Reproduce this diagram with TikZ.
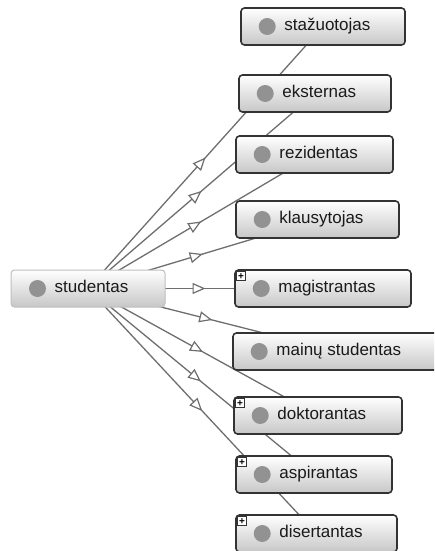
\documentclass[tikz,border=0pt]{standalone}
\usepackage{fontspec}
\setmainfont{Liberation Sans}
\usetikzlibrary{arrows.meta,decorations.markings,backgrounds}
\definecolor{edgegray}{HTML}{6E6E6E}
\definecolor{boxline}{HTML}{333333}
\definecolor{dotgray}{HTML}{929292}
\definecolor{txt}{HTML}{1A1A1A}
\tikzset{
  clsbox/.style={draw=boxline, line width=1.6pt, rounded corners=3.5pt,
    top color=white, bottom color=black!22, minimum height=37pt,
    inner sep=0pt, anchor=center},
  rootbox/.style={clsbox, draw=black!25, line width=1pt},
  dot/.style={circle, fill=dotgray, minimum size=17pt, inner sep=0pt},
  lbl/.style={anchor=mid west, inner sep=0pt,
    font=\fontsize{17}{20}\selectfont, text=txt},
  plusbox/.style={draw=boxline, fill=white, line width=0.9pt,
    minimum size=9pt, inner sep=0pt, anchor=north west,
    font=\fontsize{10}{10}\selectfont\bfseries},
  edge/.style={draw=edgegray, line width=1.3pt, postaction={decorate},
    decoration={markings, mark=at position 0.5 with
      {\arrow{Triangle[length=13pt,width=11pt,fill=white,line width=1.2pt]}}}}
}
\newcommand\mkcls[6][clsbox]{%
  \node[#1, minimum width=#5pt] (#2) at (#3,#4) {};
  \node[dot] (#2-dot) at ([xshift=27pt]#2.west) {};
  \node[lbl] (#2-lbl) at ([xshift=44pt,yshift=-1.5pt]#2.west) {#6};
}
\newcommand\mkplus[1]{%
  \node[plusbox] (#1-plus) at ([xshift=2pt,yshift=-2pt]#1.north west) {+};
}
\begin{document}
\begin{tikzpicture}[x=1pt,y=-1pt]
  \useasboundingbox (0,0) rectangle (434,551);
  \clip (0,0) rectangle (434,551);
  \mkcls[rootbox]{studentas}{88}{288.5}{154}{studentas}
  \mkcls{stazuotojas}{323}{26.5}{164}{stažuotojas}
  \mkcls{eksternas}{315}{93.5}{152}{eksternas}
  \mkcls{rezidentas}{314.5}{154.5}{157}{rezidentas}
  \mkcls{klausytojas}{317.5}{219.5}{163}{klausytojas}
  \mkcls{magistrantas}{323}{288.5}{176}{magistrantas}
  \mkcls{mainu}{336.5}{351.5}{207}{mainų\ studentas}
  \mkcls{doktorantas}{318}{415.5}{168}{doktorantas}
  \mkcls{aspirantas}{314}{474.5}{156}{aspirantas}
  \mkcls{disertantas}{316.5}{533.5}{161}{disertantas}
  \mkplus{magistrantas}
  \mkplus{doktorantas}
  \mkplus{aspirantas}
  \mkplus{disertantas}
  \begin{scope}[on background layer]
    \foreach \c in {stazuotojas,eksternas,rezidentas,klausytojas,magistrantas,mainu,doktorantas,aspirantas,disertantas}
      \draw[edge] (studentas.center) -- (\c.center);
  \end{scope}
\end{tikzpicture}
\end{document}
